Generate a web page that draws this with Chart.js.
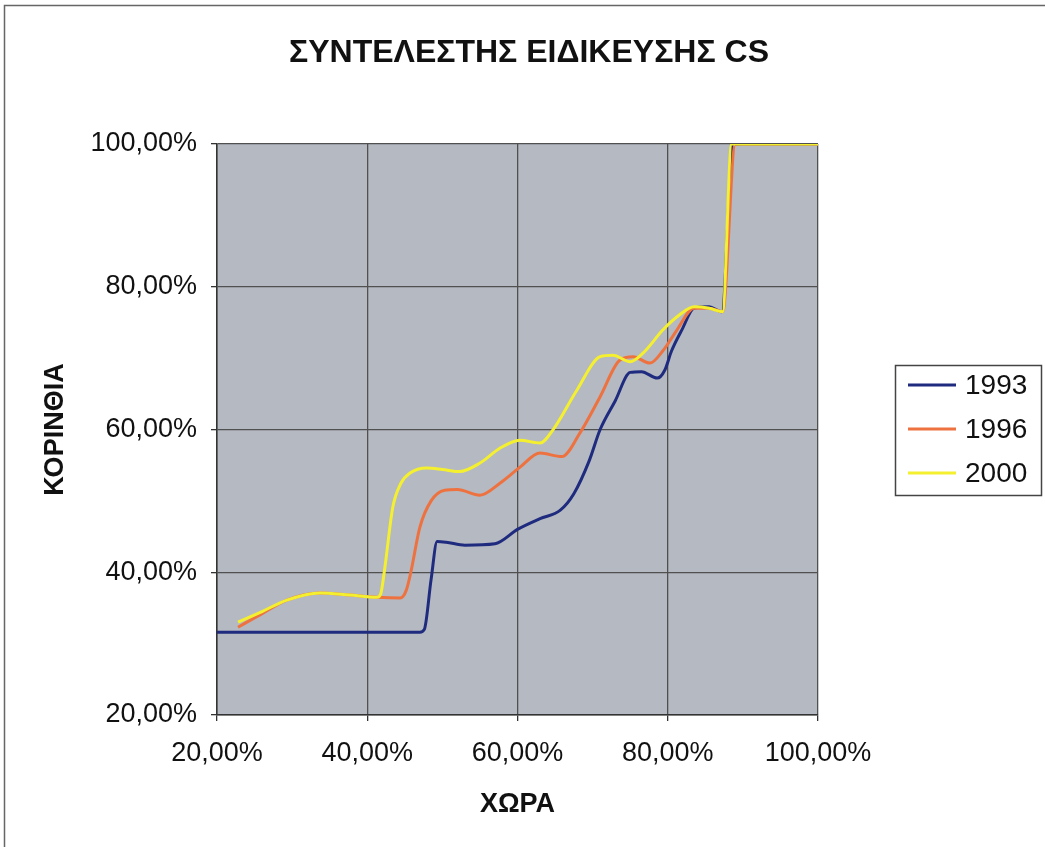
<!DOCTYPE html>
<html>
<head>
<meta charset="utf-8">
<script src="https://cdn.jsdelivr.net/npm/chart.js@4"></script>
<style>
  html, body { margin: 0; padding: 0; background: #fff; }
  #wrap { width: 1045px; height: 847px; position: relative; }
</style>
</head>
<body>
<div id="wrap"><canvas id="chart" width="1045" height="847"></canvas></div>
<script>
// --- datos ---
const chartTitle = 'ΣΥΝΤΕΛΕΣΤΗΣ ΕΙΔΙΚΕΥΣΗΣ CS';
const seriesNames = ['1993', '1996', '2000'];
const seriesColors = ['#1e2b7e', '#ee7240', '#f4f030'];

const x1993 = [20, 30, 40, 47, 47.6, 48.5, 49.3, 50.5, 53, 57, 60, 63, 65.7, 67.5, 69.5, 71, 73, 75, 76.5, 78.6, 79.6, 80.5, 81.9, 83.5, 85.5, 87.2, 88.7, 90, 100];
const y1993 = [31.6, 31.6, 31.6, 31.6, 32, 39, 44.3, 44.2, 43.8, 44, 46, 47.5, 48.7, 51, 55.5, 60, 64, 68, 68.1, 67.2, 68.3, 71, 74, 77, 77.2, 76.5, 99.9, 100, 100];

const x1996 = [22.8, 26, 29.3, 33.7, 37.7, 41.3, 44.4, 45.2, 45.8, 47, 48.5, 50.3, 52, 55, 57.7, 60.3, 63, 65.9, 68.3, 71, 73.6, 75.4, 77.6, 79.4, 81.2, 83.5, 85.5, 87.3, 89, 90, 100];
const y1996 = [32.3, 34.2, 36.1, 37.1, 36.8, 36.5, 36.4, 37.5, 40, 46.3, 50, 51.5, 51.6, 50.8, 52.5, 54.7, 56.7, 56.2, 59.5, 64.6, 69.7, 70.2, 69.3, 71.1, 73.9, 77, 77, 76.5, 100, 100, 100];

const x2000 = [22.8, 26, 29.3, 33.7, 37.7, 41.3, 41.8, 42.3, 43.4, 44.5, 45.7, 47.9, 50, 52.3, 55, 57.7, 60.3, 63, 64.7, 67.9, 71, 72.7, 75, 76.7, 79.4, 81.5, 83.5, 85.5, 87.3, 88.5, 90, 100];
const y2000 = [33, 34.5, 36.1, 37.1, 36.8, 36.5, 37, 40.3, 49.1, 52.5, 53.9, 54.6, 54.4, 54.1, 55.3, 57.4, 58.5, 58.1, 59.9, 65.5, 70.2, 70.4, 69.5, 70.7, 74, 76, 77.2, 77, 76.5, 100, 100, 100];

const xs = [x1993, x1996, x2000];
const ys = [y1993, y1996, y2000];

const FONT = 'Liberation Sans, Arial, sans-serif';
const fmtPct = v => v.toFixed(2).replace('.', ',') + '%';

// fondo gris del área de trazado, marco exterior y título
const bgPlugin = {
  id: 'bg',
  beforeDraw(chart) {
    const { ctx, chartArea: a } = chart;
    ctx.save();
    ctx.fillStyle = '#b5b9c1';
    ctx.fillRect(a.left, a.top, a.right - a.left, a.bottom - a.top);
    ctx.strokeStyle = '#666';
    ctx.lineWidth = 1.5;
    ctx.strokeRect(4.5, 5.5, 1100, 900);
    ctx.fillStyle = '#111';
    ctx.font = 'bold 32px ' + FONT;
    ctx.textAlign = 'center';
    ctx.textBaseline = 'middle';
    ctx.fillText(chartTitle, 529, 53);
    ctx.restore();
  }
};

// leyenda propia con recuadro
const legendPlugin = {
  id: 'boxLegend',
  afterDraw(chart) {
    const { ctx } = chart;
    const bx = 895, by = 365, bw = 146, bh = 130;
    ctx.save();
    ctx.fillStyle = '#fff';
    ctx.fillRect(bx, by, bw, bh);
    ctx.strokeStyle = '#444';
    ctx.lineWidth = 1.5;
    ctx.strokeRect(bx + 0.5, by + 0.5, bw, bh);
    ctx.font = '28px ' + FONT;
    ctx.textBaseline = 'middle';
    chart.data.datasets.forEach((ds, i) => {
      const yy = by + 20 + i * 44;
      ctx.strokeStyle = ds.borderColor;
      ctx.lineWidth = 3;
      ctx.beginPath();
      ctx.moveTo(bx + 13, yy);
      ctx.lineTo(bx + 61, yy);
      ctx.stroke();
      ctx.fillStyle = '#111';
      ctx.fillText(ds.label, bx + 70, yy + 1);
    });
    ctx.restore();
  }
};

const datasets = seriesNames.map((name, i) => ({
  label: name,
  data: xs[i].map((x, j) => ({ x: x, y: ys[i][j] })),
  borderColor: seriesColors[i],
  backgroundColor: seriesColors[i],
  borderWidth: 3,
  pointRadius: 0,
  showLine: true,
  cubicInterpolationMode: 'monotone',
  fill: false,
  order: seriesNames.length - i   // 2000 encima
}));

new Chart(document.getElementById('chart'), {
  type: 'scatter',
  data: { datasets: datasets },
  options: {
    responsive: false,
    animation: false,
    layout: { padding: { left: 0, right: 227, top: 144, bottom: 0 } },
    plugins: {
      legend: { display: false },
      tooltip: { enabled: false },
      title: { display: false }
    },
    scales: {
      x: {
        type: 'linear',
        min: 20, max: 100,
        afterFit(s) { s.height = 132; },
        ticks: {
          stepSize: 20,
          color: '#111',
          font: { family: FONT, size: 27 },
          padding: 16,
          callback: v => fmtPct(v)
        },
        grid: { color: '#505050', lineWidth: 1.3, tickLength: 6, tickColor: '#333' },
        border: { color: '#333', width: 1.5 },
        title: {
          display: true,
          text: 'ΧΩΡΑ',
          color: '#111',
          font: { family: FONT, size: 27, weight: 'bold' },
          padding: { top: 0, bottom: 26 }
        }
      },
      y: {
        type: 'linear',
        min: 20, max: 100,
        afterFit(s) { s.width = 217; },
        ticks: {
          stepSize: 20,
          color: '#111',
          font: { family: FONT, size: 27 },
          padding: 14,
          callback: v => fmtPct(v)
        },
        grid: { color: '#505050', lineWidth: 1.3, tickLength: 6, tickColor: '#333' },
        border: { color: '#333', width: 1.5 },
        title: {
          display: true,
          text: 'ΚΟΡΙΝΘΙΑ',
          color: '#111',
          font: { family: FONT, size: 27, weight: 'bold' },
          padding: { top: 39, bottom: 0 }
        }
      }
    }
  },
  plugins: [bgPlugin, legendPlugin]
});
</script>
</body>
</html>
